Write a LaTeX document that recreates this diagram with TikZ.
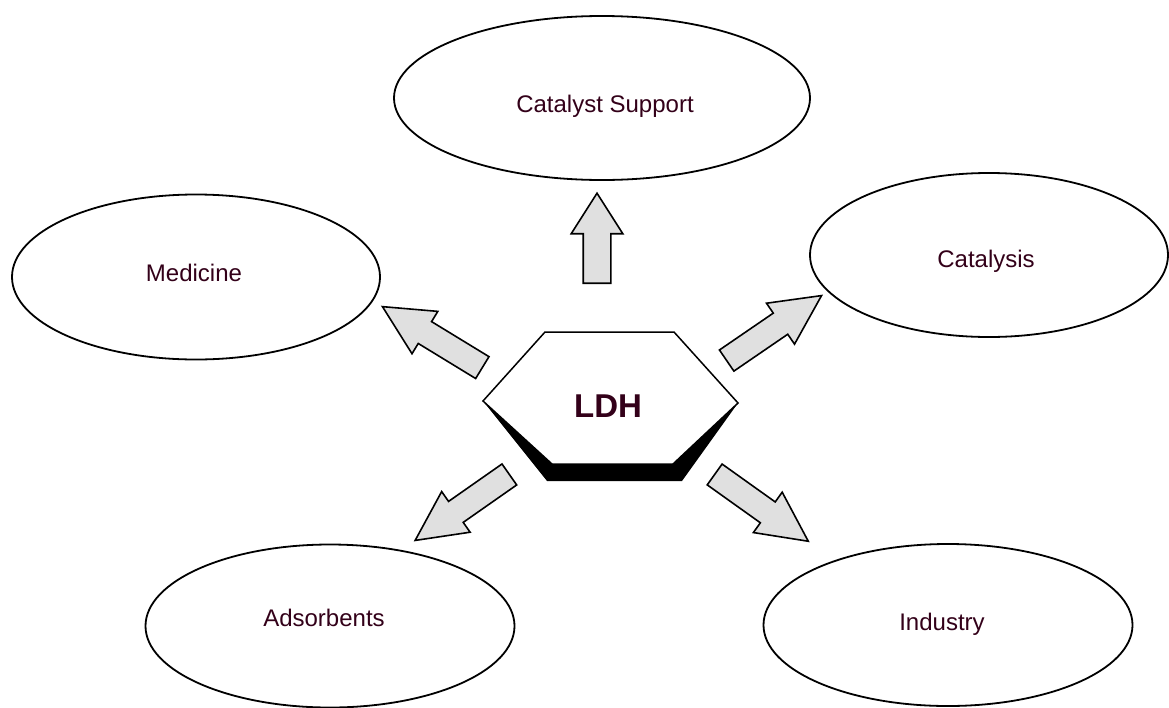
\documentclass[tikz,border=0pt]{standalone}
\usepackage{fontspec}
\setmainfont{Liberation Sans}
\usetikzlibrary{shapes.geometric,shapes.arrows}
\definecolor{labelcol}{HTML}{330019}
\definecolor{arrowfill}{HTML}{E0E0E0}
\begin{document}
\begin{tikzpicture}[x=1pt,y=-1pt,
  field/.style 2 args={ellipse, draw, line width=1.8pt, fill=white,
    minimum width=#1, minimum height=#2, inner sep=0pt},
  lbl/.style={anchor=base, text=labelcol, inner sep=0pt,
    font=\fontsize{24}{24}\selectfont},
  blockarrow/.style={single arrow, draw, fill=arrowfill, line width=1.6pt,
    line join=miter, inner sep=0pt, anchor=tail, single arrow head indent=0pt},
  uparrow/.style={blockarrow, inner ysep=13pt, single arrow head extend=12pt,
    single arrow tip angle=65, minimum height=90pt},
  diagarrow/.style={blockarrow, inner ysep=12pt, single arrow head extend=12pt,
    single arrow tip angle=53, minimum height=#1},
  diagarrow/.default=115pt]
\useasboundingbox (0,0) rectangle (1169,707);

% application fields
\node[field={416pt}{164pt}] (support)    at (602,98)  {};
\node[field={368pt}{165pt}] (medicine)   at (196,277) {};
\node[field={358pt}{164pt}] (catalysis)  at (989,255) {};
\node[field={369pt}{163pt}] (adsorbents) at (330,626) {};
\node[field={369pt}{162pt}] (industry)   at (948,625) {};

\node[lbl] (support-t)    at (605,112) {Catalyst Support};
\node[lbl] (medicine-t)   at (194,281) {Medicine};
\node[lbl] (catalysis-t)  at (986,267) {Catalysis};
\node[lbl] (adsorbents-t) at (324,626) {Adsorbents};
\node[lbl] (industry-t)   at (942,630) {Industry};

% central hexagon with its dark lower rim
\coordinate (hL)  at (483,401);
\coordinate (hTL) at (545,332);
\coordinate (hTR) at (674,332);
\coordinate (hR)  at (738,403);
\coordinate (hBR) at (673,464);
\coordinate (hBL) at (552,464);
\coordinate (sBL) at (547,481);
\coordinate (sBR) at (682,481);
\fill[black] (hL) -- (sBL) -- (sBR) -- (hR) -- cycle;
\draw[fill=white, line width=1.5pt, line join=miter]
  (hL) -- (hTL) -- (hTR) -- (hR) -- (hBR) -- (hBL) -- cycle;
\node[anchor=base, text=labelcol, inner sep=0pt,
  font=\bfseries\fontsize{33}{33}\selectfont] (ldh) at (608,417) {LDH};

% block arrows pointing outwards
\node[uparrow, rotate=90] (a-support) at (597,284) {};
\node[diagarrow=117pt, rotate=148.6] (a-medicine) at (483,368) {};
\node[diagarrow, rotate=34.4] (a-catalysis) at (726,361) {};
\node[diagarrow, rotate=215] (a-adsorbents) at (510,474) {};
\node[diagarrow, rotate=-35.5] (a-industry) at (714,474) {};
\end{tikzpicture}
\end{document}
